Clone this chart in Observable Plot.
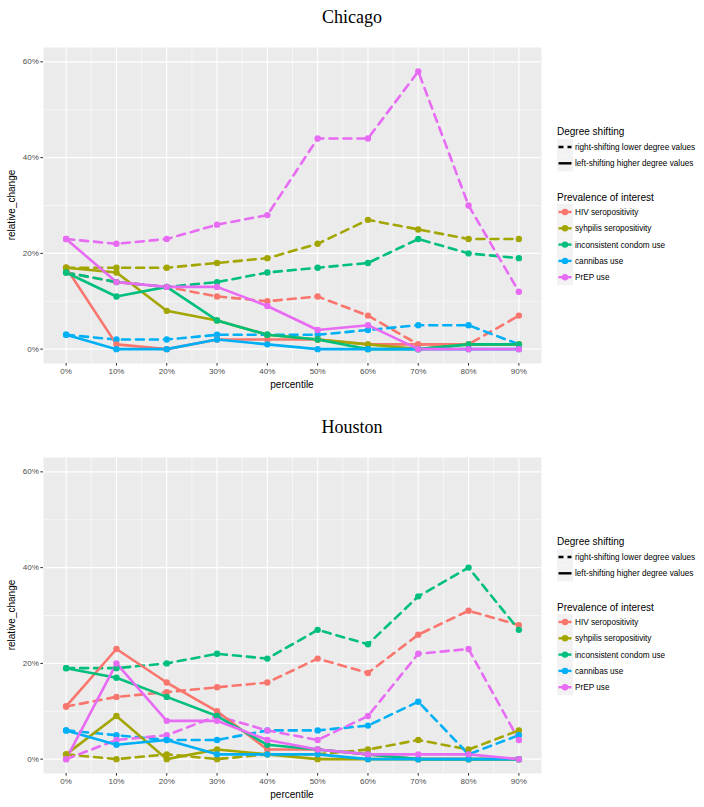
<!DOCTYPE html>
<html><head><meta charset="utf-8">
<script src="https://cdn.jsdelivr.net/npm/d3@7"></script>
<script src="https://cdn.jsdelivr.net/npm/@observablehq/plot@0.6"></script>
<style>
body{margin:0;background:#fff;font-family:"Liberation Sans",Arial,sans-serif;}
#root{position:relative;width:704px;height:807px;overflow:hidden;}
.title{position:absolute;left:0;width:704px;text-align:center;font-family:"Liberation Serif","Times New Roman",serif;font-size:18px;color:#000;line-height:20px;}
.panel{position:absolute;left:0;}
.xlab{position:absolute;left:43px;width:498px;text-align:center;font-size:10px;color:#000;line-height:12px;}
.ylab{position:absolute;left:12px;width:0;height:0;font-size:10px;color:#000;}
.ylab span{position:absolute;transform:translate(-50%,-50%) rotate(-90deg);white-space:nowrap;line-height:12px;}
.legend{position:absolute;left:550px;top:0;}
</style></head><body><div id="root"></div>
<script>
// ---- data ----
const percentiles = [0, 10, 20, 30, 40, 50, 60, 70, 80, 90];
const prevalence = ["HIV seropositivity", "syhpilis seropositivity", "inconsistent condom use", "cannibas use", "PrEP use"];
const shifts = ["right-shifting lower degree values", "left-shifting higher degree values"];
const colors = ["#F8766D", "#A3A500", "#00BF7D", "#00B0F6", "#E76BF3"];
const cities = ["Chicago", "Houston"];

// Chicago, right-shifting (dashed)
const chiRightHIV      = [16, 14, 13, 11, 10, 11, 7, 1, 1, 7];
const chiRightSyphilis = [17, 17, 17, 18, 19, 22, 27, 25, 23, 23];
const chiRightCondom   = [16, 14, 13, 14, 16, 17, 18, 23, 20, 19];
const chiRightCannabis = [3, 2, 2, 3, 3, 3, 4, 5, 5, 1];
const chiRightPrEP     = [23, 22, 23, 26, 28, 44, 44, 58, 30, 12];
// Chicago, left-shifting (solid)
const chiLeftHIV       = [17, 1, 0, 2, 2, 2, 1, 1, 1, 1];
const chiLeftSyphilis  = [17, 16, 8, 6, 3, 2, 1, 0, 1, 1];
const chiLeftCondom    = [16, 11, 13, 6, 3, 2, 0, 0, 1, 1];
const chiLeftCannabis  = [3, 0, 0, 2, 1, 0, 0, 0, 0, 0];
const chiLeftPrEP      = [23, 14, 13, 13, 9, 4, 5, 0, 0, 0];

// Houston, right-shifting (dashed)
const houRightHIV      = [11, 13, 14, 15, 16, 21, 18, 26, 31, 28];
const houRightSyphilis = [1, 0, 1, 0, 1, 1, 2, 4, 2, 6];
const houRightCondom   = [19, 19, 20, 22, 21, 27, 24, 34, 40, 27];
const houRightCannabis = [6, 5, 4, 4, 6, 6, 7, 12, 1, 5];
const houRightPrEP     = [0, 4, 5, 9, 6, 4, 9, 22, 23, 4];
// Houston, left-shifting (solid)
const houLeftHIV       = [11, 23, 16, 10, 2, 2, 1, 0, 0, 0];
const houLeftSyphilis  = [1, 9, 0, 2, 1, 0, 0, 0, 0, 0];
const houLeftCondom    = [19, 17, 13, 9, 3, 2, 1, 0, 0, 0];
const houLeftCannabis  = [6, 3, 4, 1, 1, 1, 0, 0, 0, 0];
const houLeftPrEP      = [0, 20, 8, 8, 4, 2, 1, 1, 1, 0];

// axis ticks
const xMajor = [0, 10, 20, 30, 40, 50, 60, 70, 80, 90];
const xMinor = [5, 15, 25, 35, 45, 55, 65, 75, 85];
const yMajor = [0, 20, 40, 60];
const yMinor = [10, 30, 50];
const yTickLabels = ["0%", "20%", "40%", "60%"];
const xTickLabels = ["0%", "10%", "20%", "30%", "40%", "50%", "60%", "70%", "80%", "90%"];

const cityData = {
  Chicago: {right: [chiRightHIV, chiRightSyphilis, chiRightCondom, chiRightCannabis, chiRightPrEP],
            left:  [chiLeftHIV, chiLeftSyphilis, chiLeftCondom, chiLeftCannabis, chiLeftPrEP]},
  Houston: {right: [houRightHIV, houRightSyphilis, houRightCondom, houRightCannabis, houRightPrEP],
            left:  [houLeftHIV, houLeftSyphilis, houLeftCondom, houLeftCannabis, houLeftPrEP]}
};

// ---- layout ----
const root = document.getElementById("root");
const offsets = {Chicago: 0, Houston: 410};
const FONT = "Liberation Sans, Arial, Helvetica, sans-serif";

function buildRows(series, shift) {
  const rows = [];
  prevalence.forEach((p, i) => percentiles.forEach((x, j) =>
    rows.push({percentile: x, value: series[i][j], prevalence: p, shift})));
  return rows;
}

cities.forEach(city => {
  const off = offsets[city];
  const right = buildRows(cityData[city].right, shifts[0]);
  const left = buildRows(cityData[city].left, shifts[1]);
  const all = right.concat(left);

  const chart = Plot.plot({
    width: 704, height: 395,
    marginLeft: 43, marginRight: 163, marginTop: 47, marginBottom: 32,
    style: {background: "transparent", fontFamily: FONT, overflow: "visible"},
    x: {domain: [-4.5, 94.5], axis: null},
    y: {domain: [-3, 63], axis: null},
    color: {domain: prevalence, range: colors},
    marks: [
      Plot.frame({fill: "#EBEBEB", stroke: null}),
      Plot.gridX(xMinor, {stroke: "#fff", strokeOpacity: 1, strokeWidth: 0.55}),
      Plot.gridY(yMinor, {stroke: "#fff", strokeOpacity: 1, strokeWidth: 0.55}),
      Plot.gridX(xMajor, {stroke: "#fff", strokeOpacity: 1, strokeWidth: 1.1}),
      Plot.gridY(yMajor, {stroke: "#fff", strokeOpacity: 1, strokeWidth: 1.1}),
      Plot.axisX(xMajor, {tickSize: 2.7, tickPadding: 2, fontSize: 8, stroke: "#333", fill: "#4D4D4D",
        tickFormat: (d, i) => xTickLabels[i], label: null}),
      Plot.axisY(yMajor, {tickSize: 2.7, tickPadding: 2, fontSize: 8, stroke: "#333", fill: "#4D4D4D",
        tickFormat: (d, i) => yTickLabels[i], label: null}),
      Plot.line(right, {x: "percentile", y: "value", z: "prevalence", stroke: "prevalence",
        strokeWidth: 2.6, strokeDasharray: "8,6", strokeLinejoin: "round"}),
      Plot.line(left, {x: "percentile", y: "value", z: "prevalence", stroke: "prevalence",
        strokeWidth: 2.6, strokeLinejoin: "round"}),
      Plot.dot(all, {x: "percentile", y: "value", fill: "prevalence", r: 3.2})
    ]
  });
  chart.classList.add("panel");
  chart.style.top = off + "px";
  root.appendChild(chart);

  const t = document.createElement("div");
  t.className = "title"; t.style.top = (off + 7) + "px"; t.textContent = city;
  root.appendChild(t);

  const xl = document.createElement("div");
  xl.className = "xlab"; xl.style.top = (off + 379) + "px"; xl.textContent = "percentile";
  root.appendChild(xl);

  const yl = document.createElement("div");
  yl.className = "ylab"; yl.style.top = (off + 205) + "px";
  const ys = document.createElement("span"); ys.textContent = "relative_change";
  yl.appendChild(ys); root.appendChild(yl);

  // legend
  const svg = d3.select(root).append("svg").attr("class", "legend")
    .attr("width", 154).attr("height", 200)
    .style("top", (off + 118) + "px")
    .style("font-family", FONT);
  const kx = 7, kw = 16, tx = 25;
  svg.append("text").attr("x", kx).attr("y", 17).attr("font-size", 10).text("Degree shifting");
  shifts.forEach((s, i) => {
    const cy = 29 + i * 16.3;
    svg.append("rect").attr("x", kx).attr("y", cy - 8).attr("width", kw).attr("height", 16).attr("fill", "#F2F2F2");
    svg.append("line").attr("x1", kx + 1.5).attr("x2", kx + kw - 1.5).attr("y1", cy).attr("y2", cy)
      .attr("stroke", "#000").attr("stroke-width", 2.4)
      .attr("stroke-dasharray", i === 0 ? "5,4" : null);
    svg.append("text").attr("x", tx).attr("y", cy + 3).attr("font-size", 8.2).text(s);
  });
  svg.append("text").attr("x", kx).attr("y", 83).attr("font-size", 10).text("Prevalence of interest");
  prevalence.forEach((p, i) => {
    const cy = 94 + i * 16.3;
    svg.append("rect").attr("x", kx).attr("y", cy - 8).attr("width", kw).attr("height", 16).attr("fill", "#F2F2F2");
    svg.append("line").attr("x1", kx + 1.5).attr("x2", kx + kw - 1.5).attr("y1", cy).attr("y2", cy)
      .attr("stroke", colors[i]).attr("stroke-width", 2.4);
    svg.append("circle").attr("cx", kx + kw / 2).attr("cy", cy).attr("r", 3.2).attr("fill", colors[i]);
    svg.append("text").attr("x", tx).attr("y", cy + 3).attr("font-size", 8.2).text(p);
  });
});
</script></body></html>
